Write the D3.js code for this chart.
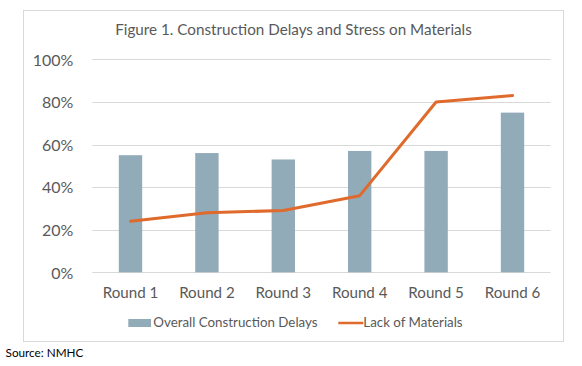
<!DOCTYPE html>
<html><head><meta charset="utf-8">
<script src="https://cdn.jsdelivr.net/npm/d3@7/dist/d3.min.js"></script>
<style>html,body{margin:0;padding:0;background:#fff;}svg{display:block;}</style>
</head><body>
<script>
const categories = ["Round 1","Round 2","Round 3","Round 4","Round 5","Round 6"];
const delays = [55, 56, 53, 57, 57, 75];
const materials = [24, 28, 29, 36, 80, 83];
const yTicks = [0, 20, 40, 60, 80, 100];
const seriesNames = ["Overall Construction Delays", "Lack of Materials"];
const titleText = "Figure 1. Construction Delays and Stress on Materials";
const sourceText = "Source: NMHC";

const W = 582, H = 366;
const FONT = "Lato, 'Open Sans', sans-serif";
const TXT = "#595959", GRID = "#D9D9D9", BAR = "#91ABB9", LINE = "#DF6A2C";

const svg = d3.select("body").append("svg").attr("width", W).attr("height", H);

function fitSize(str, target) {
  const t = svg.append("text").attr("font-family", FONT).attr("font-size", 100).text(str);
  const len = t.node().getComputedTextLength();
  t.remove();
  return 100 * target / len;
}
const fsTitle = fitSize(titleText, 357);
const fsTick = fitSize("100%", 40.6);
const fsCat = fitSize("Round 1", 55.6);
const fsLeg = fitSize("Lack of Materials", 99.4);
const fsSrc = fitSize(sourceText, 77.8);

// chart frame
svg.append("rect").attr("x", 23.5).attr("y", 10.5).attr("width", 540).attr("height", 331)
  .attr("fill", "#fff").attr("stroke", GRID).attr("stroke-width", 1);

const x = d3.scaleBand().domain(categories).range([92.3, 550.7]).paddingInner(0).paddingOuter(0);
const y = d3.scaleLinear().domain([0, 100]).range([272.3, 59.4]);

// gridlines
svg.append("g").selectAll("line").data(yTicks).join("line")
  .attr("x1", 92.3).attr("x2", 550.7)
  .attr("y1", d => Math.round(y(d)) + 0.5).attr("y2", d => Math.round(y(d)) + 0.5)
  .attr("stroke", GRID).attr("stroke-width", 1);

// y axis labels
const yAxis = d3.axisLeft(y).tickValues(yTicks).tickFormat(d => d + "%").tickSize(0).tickPadding(0);
const yg = svg.append("g").attr("transform", "translate(73.3,0)").call(yAxis);
yg.select(".domain").remove();
yg.selectAll("text").attr("font-family", FONT).attr("font-size", fsTick).attr("fill", TXT)
  .attr("dy", "0.36em").attr("x", 0);

// bars
const bw = x.bandwidth() * 0.306;
svg.append("g").selectAll("rect").data(delays).join("rect")
  .attr("x", (d, i) => x(categories[i]) + x.bandwidth() / 2 - bw / 2)
  .attr("width", bw)
  .attr("y", d => y(d))
  .attr("height", d => y(0) - y(d))
  .attr("fill", BAR);

// x axis labels
const xAxis = d3.axisBottom(x).tickSize(0).tickPadding(0);
const xg = svg.append("g").attr("transform", "translate(0,298.3)").call(xAxis);
xg.select(".domain").remove();
xg.selectAll("text").attr("font-family", FONT).attr("font-size", fsCat).attr("fill", TXT)
  .attr("dy", 0).attr("y", 0);

// line
const line = d3.line()
  .x((d, i) => x(categories[i]) + x.bandwidth() / 2)
  .y(d => y(d));
svg.append("path").datum(materials).attr("d", line)
  .attr("fill", "none").attr("stroke", LINE).attr("stroke-width", 3)
  .attr("stroke-linejoin", "round").attr("stroke-linecap", "round");

// title
svg.append("text").attr("x", 293.5).attr("y", 35).attr("text-anchor", "middle")
  .attr("font-family", FONT).attr("font-size", fsTitle).attr("fill", TXT).text(titleText);

// legend
const lg = svg.append("g");
lg.append("rect").attr("x", 128.3).attr("y", 319).attr("width", 22.7).attr("height", 8).attr("fill", BAR);
lg.append("text").attr("x", 153.3).attr("y", 327).attr("font-family", FONT).attr("font-size", fsLeg)
  .attr("fill", TXT).text(seriesNames[0]);
lg.append("line").attr("x1", 338.3).attr("x2", 363.3).attr("y1", 323).attr("y2", 323)
  .attr("stroke", LINE).attr("stroke-width", 2.5);
lg.append("text").attr("x", 363.3).attr("y", 327).attr("font-family", FONT).attr("font-size", fsLeg)
  .attr("fill", TXT).text(seriesNames[1]);

// source
svg.append("text").attr("x", 5.6).attr("y", 357).attr("font-family", FONT).attr("font-size", fsSrc)
  .attr("fill", "#000").text(sourceText);
</script>
</body></html>
